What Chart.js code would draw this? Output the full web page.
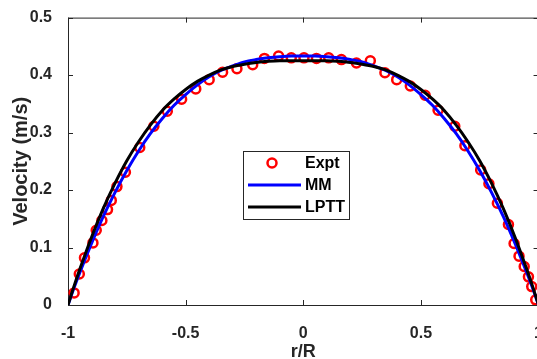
<!DOCTYPE html>
<html>
<head>
<meta charset="utf-8">
<script src="https://cdn.jsdelivr.net/npm/chart.js@4/dist/chart.umd.min.js"></script>
<style>
  html, body { margin: 0; padding: 0; background: #fff; overflow: hidden; }
  #wrap { width: 537px; height: 359px; overflow: hidden; }
</style>
</head>
<body>
<div id="wrap"><canvas id="myChart" width="554" height="359"></canvas></div>
<script>
// measured points (Expt)
const exptX = [-0.974, -0.952, -0.930, -0.894, -0.880, -0.856, -0.832, -0.816, -0.792, -0.756,
  -0.695, -0.635, -0.578, -0.517, -0.457, -0.400, -0.343, -0.282, -0.215, -0.165,
  -0.105, -0.051, 0.003, 0.056, 0.108, 0.162, 0.226, 0.285, 0.347, 0.397,
  0.455, 0.518, 0.573, 0.644, 0.687, 0.754, 0.789, 0.825, 0.872, 0.896,
  0.917, 0.939, 0.957, 0.971, 0.988];
const exptY = [0.021, 0.054, 0.082, 0.108, 0.130, 0.147, 0.166, 0.182, 0.206, 0.231,
  0.274, 0.311, 0.337, 0.358, 0.376, 0.392, 0.405, 0.411, 0.418, 0.429,
  0.433, 0.430, 0.430, 0.429, 0.430, 0.427, 0.421, 0.425, 0.404, 0.392,
  0.381, 0.365, 0.339, 0.311, 0.277, 0.235, 0.211, 0.177, 0.140, 0.107,
  0.085, 0.067, 0.049, 0.032, 0.009];

// model curves
const curveX = [-1, -0.975, -0.95, -0.9, -0.85, -0.8, -0.75, -0.7, -0.65, -0.6, -0.55,
  -0.5, -0.45, -0.4, -0.35, -0.3, -0.25, -0.2, -0.15, -0.1, -0.05, 0,
  0.05, 0.1, 0.15, 0.2, 0.25, 0.3, 0.35, 0.4, 0.45, 0.5,
  0.55, 0.6, 0.65, 0.7, 0.75, 0.8, 0.85, 0.9, 0.95, 0.975, 1];
const mmY = [0, 0.029, 0.056, 0.107, 0.154, 0.196, 0.234, 0.268, 0.298, 0.324, 0.347,
  0.366, 0.383, 0.397, 0.408, 0.416, 0.423, 0.427, 0.430, 0.432, 0.433, 0.433,
  0.433, 0.432, 0.430, 0.427, 0.423, 0.416, 0.408, 0.397, 0.383, 0.366,
  0.347, 0.324, 0.298, 0.268, 0.234, 0.196, 0.154, 0.107, 0.056, 0.029, 0];
const lpttY = [0, 0.032, 0.062, 0.118, 0.168, 0.212, 0.251, 0.284, 0.313, 0.338, 0.358,
  0.375, 0.389, 0.400, 0.409, 0.415, 0.419, 0.422, 0.424, 0.425, 0.425, 0.425,
  0.425, 0.425, 0.424, 0.422, 0.419, 0.415, 0.409, 0.400, 0.389, 0.375,
  0.358, 0.338, 0.313, 0.284, 0.251, 0.212, 0.168, 0.118, 0.062, 0.032, 0];

const xTicks = [-1, -0.5, 0, 0.5, 1];
const yTicks = [0, 0.1, 0.2, 0.3, 0.4, 0.5];
const seriesNames = ['Expt', 'MM', 'LPTT'];

const axisColor = '#262626';
const fontFam = '"Liberation Sans", Arial, sans-serif';

const toPts = (xs, ys) => xs.map((x, i) => ({ x: x, y: ys[i] }));

// MATLAB-like box with inward ticks
const boxPlugin = {
  id: 'box',
  beforeDatasetsDraw(chart) {
    const { ctx, chartArea: a, scales } = chart;
    ctx.save();
    ctx.strokeStyle = axisColor;
    ctx.lineWidth = 1;
    ctx.strokeRect(a.left + 0.5, a.top + 0.5, a.right - a.left - 1, a.bottom - a.top);
    ctx.beginPath();
    xTicks.forEach(v => {
      const px = Math.round(scales.x.getPixelForValue(v)) + 0.5;
      ctx.moveTo(px, a.bottom); ctx.lineTo(px, a.bottom - 5);
      ctx.moveTo(px, a.top); ctx.lineTo(px, a.top + 5);
    });
    yTicks.forEach(v => {
      const py = Math.round(scales.y.getPixelForValue(v)) + 0.5;
      ctx.moveTo(a.left, py); ctx.lineTo(a.left + 5, py);
      ctx.moveTo(a.right, py); ctx.lineTo(a.right - 5, py);
    });
    ctx.stroke();
    ctx.restore();
  }
};

// legend box in the middle of the plot
const legendPlugin = {
  id: 'boxLegend',
  afterDraw(chart) {
    const { ctx } = chart;
    const ds = chart.data.datasets;
    const bx = 243, by = 151, bw = 106, bh = 68;
    ctx.save();
    ctx.fillStyle = '#fff';
    ctx.fillRect(bx, by, bw, bh);
    ctx.strokeStyle = axisColor;
    ctx.lineWidth = 1;
    ctx.strokeRect(bx + 0.5, by + 0.5, bw, bh);
    ctx.font = 'bold 16px ' + fontFam;
    ctx.textBaseline = 'middle';
    ctx.fillStyle = '#000';
    // Expt marker
    ctx.beginPath();
    ctx.arc(bx + 29, by + 12, 4.5, 0, Math.PI * 2);
    ctx.strokeStyle = ds[0].borderColor;
    ctx.lineWidth = 2.5;
    ctx.stroke();
    ctx.fillText(ds[0].label, bx + 62, by + 13);
    // lines
    [1, 2].forEach((k, j) => {
      const y = by + 34 + j * 22;
      ctx.beginPath();
      ctx.moveTo(bx + 5, y); ctx.lineTo(bx + 58, y);
      ctx.strokeStyle = ds[k].borderColor;
      ctx.lineWidth = 3;
      ctx.stroke();
      ctx.fillText(ds[k].label, bx + 62, y + 1);
    });
    ctx.restore();
  }
};

new Chart(document.getElementById('myChart'), {
  type: 'scatter',
  data: {
    datasets: [
      {
        label: seriesNames[0],
        data: toPts(exptX, exptY),
        borderColor: '#ff0000',
        backgroundColor: 'rgba(0,0,0,0)',
        pointRadius: 4.5,
        pointBorderWidth: 2.5,
        showLine: false,
        order: 3
      },
      {
        label: seriesNames[1],
        data: toPts(curveX, mmY),
        borderColor: '#0000ff',
        borderWidth: 3,
        pointRadius: 0,
        showLine: true,
        cubicInterpolationMode: 'monotone',
        order: 2
      },
      {
        label: seriesNames[2],
        data: toPts(curveX, lpttY),
        borderColor: '#000000',
        borderWidth: 3,
        pointRadius: 0,
        showLine: true,
        cubicInterpolationMode: 'monotone',
        order: 1
      }
    ]
  },
  options: {
    responsive: false,
    animation: false,
    devicePixelRatio: 1,
    layout: { padding: { top: 16, right: 1, left: 0, bottom: 0 } },
    plugins: {
      legend: { display: false },
      tooltip: { enabled: false }
    },
    scales: {
      x: {
        type: 'linear',
        min: -1,
        max: 1,
        afterBuildTicks: s => { s.ticks = xTicks.map(v => ({ value: v })); },
        grid: { display: false },
        border: { display: false },
        ticks: {
          color: axisColor,
          padding: 11,
          maxRotation: 0,
          callback: v => String(v),
          font: { family: fontFam, size: 16, weight: 'bold' }
        },
        title: {
          display: true,
          text: 'r/R',
          color: axisColor,
          padding: { top: 0, bottom: -4 },
          font: { family: fontFam, size: 18, weight: 'bold' }
        },
        afterFit: s => { s.height = 54; }
      },
      y: {
        type: 'linear',
        min: 0,
        max: 0.5,
        afterBuildTicks: s => { s.ticks = yTicks.map(v => ({ value: v })); },
        grid: { display: false },
        border: { display: false },
        ticks: {
          color: axisColor,
          padding: 8,
          callback: v => String(v),
          font: { family: fontFam, size: 16, weight: 'bold' }
        },
        title: {
          display: true,
          text: 'Velocity (m/s)',
          color: axisColor,
          padding: { top: 9, bottom: 0 },
          font: { family: fontFam, size: 20, weight: 'bold' }
        },
        afterFit: s => { s.width = 68; }
      }
    }
  },
  plugins: [boxPlugin, legendPlugin]
});
</script>
</body>
</html>
